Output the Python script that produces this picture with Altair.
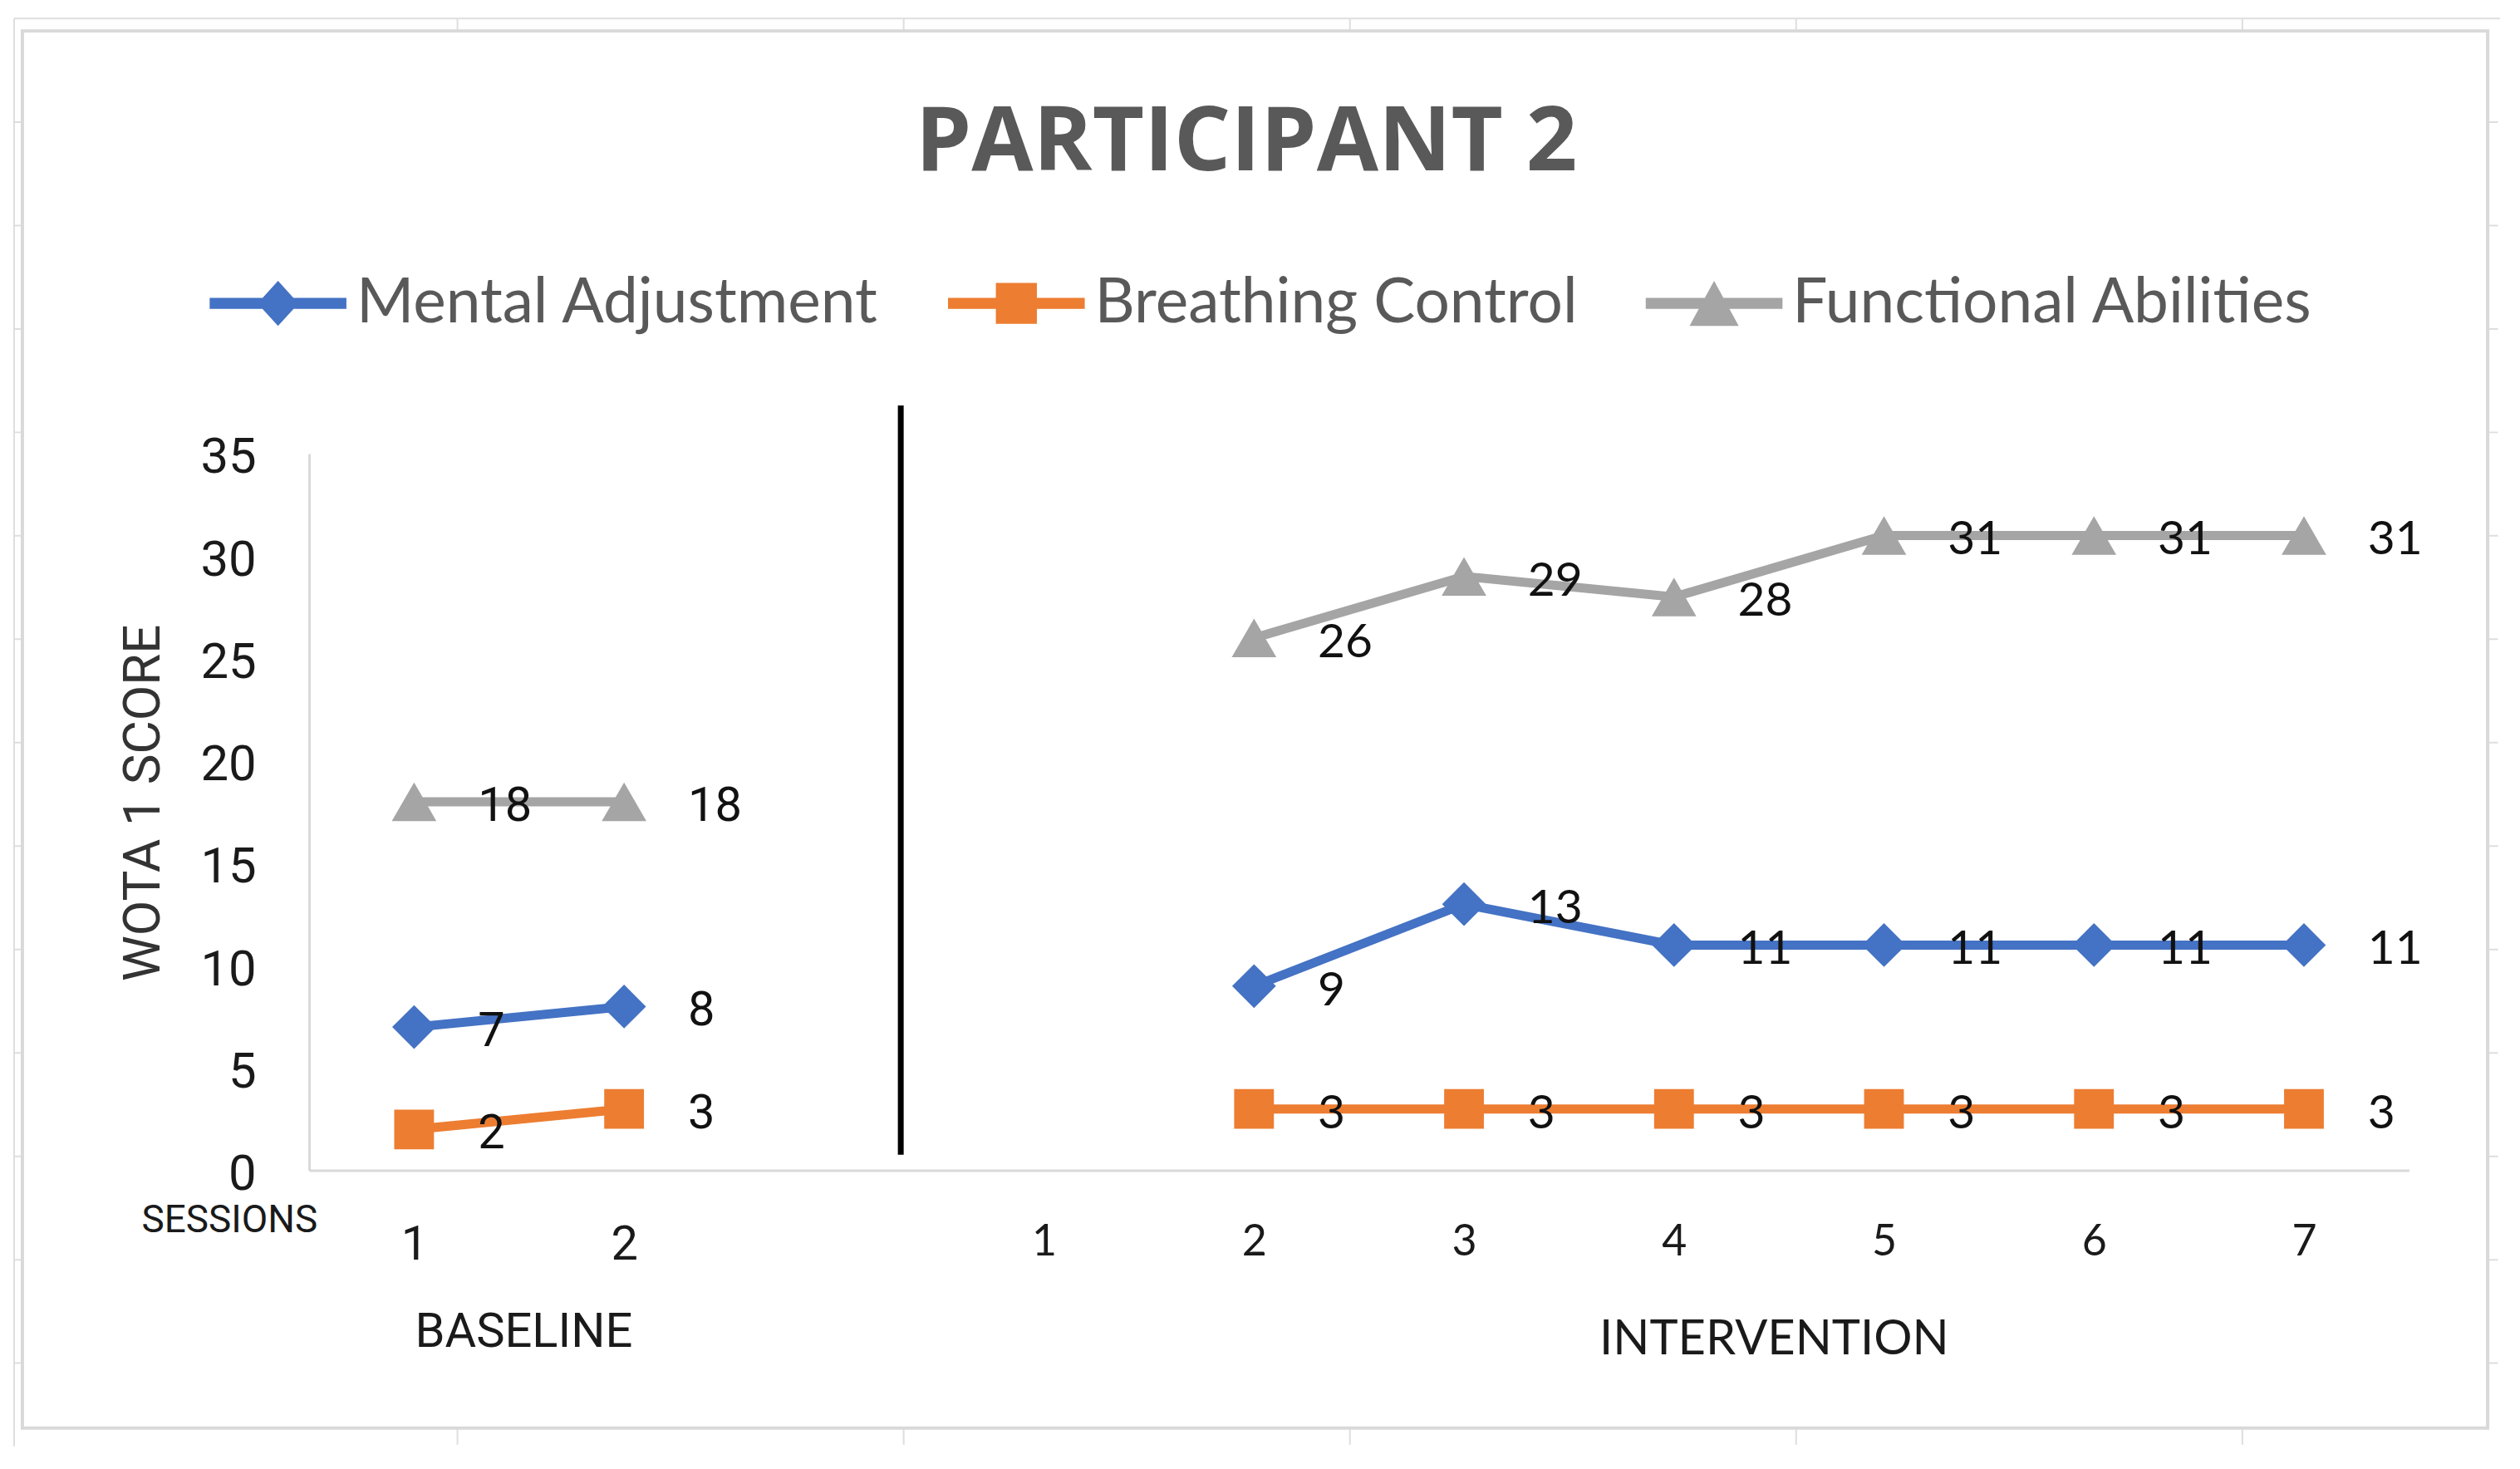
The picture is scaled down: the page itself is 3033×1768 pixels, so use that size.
import json
import altair as alt
import pandas as pd

# ---------------- data ----------------
series_names = ["Mental Adjustment", "Breathing Control", "Functional Abilities"]
series_colors = ["#4472C4", "#ED7D31", "#A5A5A5"]

# shared session axis: baseline 1-2, empty slot, intervention 1-7
slot_labels = ["1", "2", "", "1", "2", "3", "4", "5", "6", "7"]
slot_ticks = [1, 2, 3, 4, 5, 6, 7, 8, 9, 10]
baseline_slots = [1, 2]
intervention_slots = [5, 6, 7, 8, 9, 10]

mental_baseline = [7, 8]
mental_intervention = [9, 13, 11, 11, 11, 11]
breathing_baseline = [2, 3]
breathing_intervention = [3, 3, 3, 3, 3, 3]
functional_baseline = [18, 18]
functional_intervention = [26, 29, 28, 31, 31, 31]

y_ticks = [0, 5, 10, 15, 20, 25, 30, 35]

# ---------------- styling ----------------
marker_shape = {"Mental Adjustment": "diamond", "Breathing Control": "square",
                "Functional Abilities": "triangle-up"}
marker_size = {"Mental Adjustment": 2800, "Breathing Control": 2300,
               "Functional Abilities": 2900}
color_of = dict(zip(series_names, series_colors))
bar = "M-1,-0.08L1,-0.08L1,0.08L-1,0.08Z "
legend_paths = [
    bar + "M0,-0.33L0.3,0L0,0.33L-0.3,0Z",
    bar + "M-0.3,-0.3L0.3,-0.3L0.3,0.3L-0.3,0.3Z",
    bar + "M0,-0.33L0.36,0.33L-0.36,0.33Z",
]

rows = []
for name, base_vals, int_vals in [
    ("Mental Adjustment", mental_baseline, mental_intervention),
    ("Breathing Control", breathing_baseline, breathing_intervention),
    ("Functional Abilities", functional_baseline, functional_intervention),
]:
    for s, v in zip(baseline_slots, base_vals):
        rows.append(dict(series=name, phase="baseline", slot=s, value=v))
    for s, v in zip(intervention_slots, int_vals):
        rows.append(dict(series=name, phase="intervention", slot=s, value=v))
df = pd.DataFrame(rows)
df["grp"] = df["series"] + "-" + df["phase"]
df["color"] = df["series"].map(color_of)
df["shape"] = df["series"].map(marker_shape)
df["msize"] = df["series"].map(marker_size)

one = pd.DataFrame({"k": [0]})

x_enc = alt.X(
    "slot:Q",
    scale=alt.Scale(domain=[0.5, 10.5], nice=False, zero=False),
    axis=alt.Axis(
        values=slot_ticks,
        labelExpr=json.dumps(slot_labels) + "[datum.value - 1]",
        title=None,
        labelFont={"condition": {"test": "datum.value <= 2", "value": "Roboto"}, "value": "Lato"},
        labelFontSize={"condition": {"test": "datum.value <= 2", "value": 58}, "value": 52},
        labelColor="#1a1a1a",
        labelPadding=61,
        ticks=False,
        grid=False,
        domainColor="#d9d9d9",
        domainWidth=3,
        zindex=1,
    ),
)
y_enc = alt.Y(
    "value:Q",
    scale=alt.Scale(domain=[0, 35], nice=False),
    axis=alt.Axis(
        values=y_ticks,
        title="WOTA 1 SCORE",
        titleFont="Roboto",
        titleFontSize=62,
        titleFontWeight="normal",
        titleColor="#333333",
        titleAngle=270,
        titleX=-200,
        titleY=421,
        titleAlign="center",
        titleBaseline="middle",
        labelFont="Roboto",
        labelFontSize=60,
        labelColor="#1a1a1a",
        labelPadding=64,
        labelOffset=5,
        ticks=False,
        grid=False,
        domainColor="#d9d9d9",
        domainWidth=3,
        zindex=1,
    ),
)

# ---- decorative spreadsheet cell lines behind the chart object ----
grid_col = "#dedede"
def hrule(x1, x2, y, w=2, dash=None):
    kw = dict(color=grid_col, strokeWidth=w)
    if dash:
        kw["strokeDash"] = dash
    return alt.Chart(one).mark_rule(**kw).encode(x=alt.value(x1), x2=alt.value(x2), y=alt.value(y))

def vrule(x, y1, y2, w=2, dash=None):
    kw = dict(color=grid_col, strokeWidth=w)
    if dash:
        kw["strokeDash"] = dash
    return alt.Chart(one).mark_rule(**kw).encode(x=alt.value(x), y=alt.value(y1), y2=alt.value(y2))

sheet = [
    hrule(-356, 2644, -525),
    vrule(-356, -525, 1198),
    vrule(-351, -401, 1198, w=10, dash=[2, 122.8]),
    vrule(2635, -401, 1198, w=13, dash=[2, 122.8]),
    hrule(178, 2644, -517, w=15, dash=[2, 536.5]),
    hrule(178, 2644, 1186, w=20, dash=[2, 536.5]),
]

frame = alt.Chart(one).mark_rect(
    fill="white", stroke="#d9d9d9", strokeWidth=4
).encode(x=alt.value(-346), x2=alt.value(2629), y=alt.value(-510), y2=alt.value(1176))

divider = alt.Chart(one).mark_rule(color="black", strokeWidth=7).encode(
    x=alt.value(714), y=alt.value(-58), y2=alt.value(846)
)

lines = alt.Chart(df).mark_line(strokeWidth=11).encode(
    x=x_enc, y=y_enc,
    color=alt.Color("color:N", scale=None),
    detail="grp:N",
    order="slot:Q",
)

points = alt.Chart(df).mark_point(filled=True, opacity=1, strokeWidth=0).encode(
    x=x_enc, y=y_enc,
    color=alt.Color("color:N", scale=None),
    shape=alt.Shape("shape:N", scale=None),
    size=alt.Size("msize:Q", scale=None),
)

labels_base = alt.Chart(df).transform_filter("datum.phase == 'baseline'").mark_text(
    font="Roboto", fontSize=58, align="left", baseline="middle", dx=77, dy=6, color="#111111"
).encode(x=x_enc, y=y_enc, text="value:Q")

labels_int = alt.Chart(df).transform_filter("datum.phase == 'intervention'").mark_text(
    font="Lato", fontSize=57, align="left", baseline="middle", dx=77, dy=6, color="#111111"
).encode(x=x_enc, y=y_enc, text="value:Q")

leg = alt.Legend(
    title=None, orient="none", legendX=-120, legendY=-264, direction="horizontal",
    labelFont="Lato", labelFontSize=75, labelColor="#595959", labelOffset=12,
    columnPadding=82, symbolSize=27225, symbolStrokeWidth=0, symbolOpacity=1, padding=0,
    labelLimit=2000,
)
legend_layer = alt.Chart(df).mark_point(filled=True, opacity=0, size=200).encode(
    x=x_enc, y=y_enc,
    color=alt.Color("series:N", scale=alt.Scale(domain=series_names, range=series_colors), legend=leg),
    shape=alt.Shape("series:N", scale=alt.Scale(domain=series_names, range=legend_paths), legend=leg),
)

def label(txt, x, y, font, size, color="#1a1a1a", weight="normal"):
    return alt.Chart(one).mark_text(
        font=font, fontSize=size, fontWeight=weight, color=color,
        align="center", baseline="alphabetic"
    ).encode(x=alt.value(x), y=alt.value(y), text=alt.value(txt))

title = label("PARTICIPANT 2", 1131, -342, "Open Sans", 108, "#595959", "bold")
sessions = label("SESSIONS", -96, 940, "Roboto", 46)
baseline_txt = label("BASELINE", 259, 1078, "Roboto", 58)
intervention_txt = label("INTERVENTION", 1768, 1087, "Lato", 58)

chart = alt.layer(
    *sheet, frame, divider, lines, points, labels_base, labels_int, legend_layer,
    title, sessions, baseline_txt, intervention_txt,
).properties(
    width=2534, height=865,
    autosize=alt.AutoSizeParams(type="none"),
    padding={"left": 365, "top": 537, "right": 126, "bottom": 358},
).configure_view(stroke=None).configure(background="white")

chart.save("out.html", embed_options={"renderer": "svg", "actions": False})
